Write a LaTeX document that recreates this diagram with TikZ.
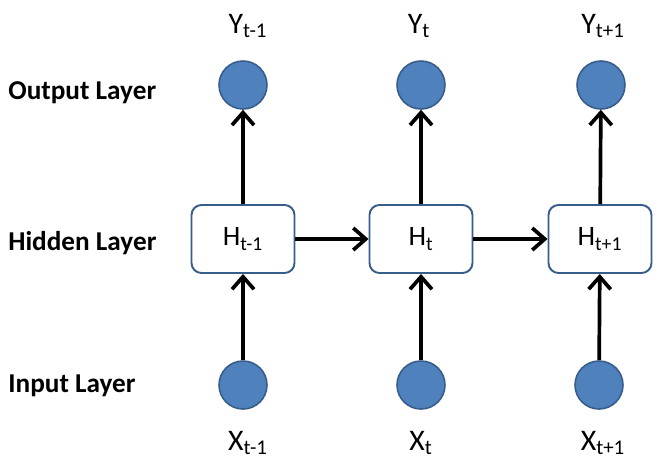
\documentclass[tikz,border=0pt]{standalone}
\usepackage{fontspec}
\setmainfont{Carlito}
\usepackage{xcolor}
\usetikzlibrary{arrows.meta}
\definecolor{unitfill}{HTML}{4F81BD}
\definecolor{unitline}{HTML}{385D8A}
\tikzset{unit/.style={circle,fill=unitfill,draw=unitline,line width=0.9pt,minimum size=0.96cm,inner sep=0pt},
  hbox/.style={rectangle,rounded corners=0.2cm,draw=unitline,line width=1.1pt,fill=white,minimum width=2.06cm,minimum height=1.36cm,font=\fontsize{16}{18}\selectfont},
  lbl/.style={font=\fontsize{17}{19}\selectfont,anchor=base},
  layer/.style={font=\fontsize{15.5}{17}\selectfont\bfseries,anchor=base west,inner sep=0pt},
  arr/.style={line width=2.1pt,-{Straight Barb[length=2.5mm,width=4.4mm,line width=2.1pt]}}}

\begin{document}
\begin{tikzpicture}
\useasboundingbox (0,0) rectangle (13.3,-9.34);

% layer names
\node[layer] (lo) at (0.16,-1.98) {Output Layer};
\node[layer] (lh) at (0.16,-5.00) {Hidden Layer};
\node[layer] (li) at (0.16,-7.84) {Input Layer};

% output units
\node[unit] (y1) at (4.86,-1.70) {};
\node[unit] (y2) at (8.42,-1.70) {};
\node[unit] (y3) at (12.02,-1.70) {};

% hidden units
\node[hbox] (h1) at (4.86,-4.78) {H\textsubscript{t-1}};
\node[hbox] (h2) at (8.42,-4.78) {H\textsubscript{t}};
\node[hbox] (h3) at (12.0,-4.78) {H\textsubscript{t+1}};

% input units
\node[unit] (x1) at (4.86,-7.70) {};
\node[unit] (x2) at (8.42,-7.70) {};
\node[unit] (x3) at (11.98,-7.70) {};

% labels
\node[lbl] (ty1) at (4.96,-0.66) {Y\textsubscript{t-1}};
\node[lbl] (ty2) at (8.38,-0.66) {Y\textsubscript{t}};
\node[lbl] (ty3) at (12.06,-0.66) {Y\textsubscript{t+1}};
\node[lbl] (tx1) at (4.96,-9.0) {X\textsubscript{t-1}};
\node[lbl] (tx2) at (8.42,-9.0) {X\textsubscript{t}};
\node[lbl] (tx3) at (12.06,-9.0) {X\textsubscript{t+1}};

% connections
\draw[arr] (x1) -- (h1);
\draw[arr] (x2) -- (h2);
\draw[arr] (x3) -- (h3);

\draw[arr] (h1) -- (y1);
\draw[arr] (h2) -- (y2);
\draw[arr] (h3) -- (y3);

\draw[arr] (h1) -- (h2);
\draw[arr] (h2) -- (h3);

\end{tikzpicture}
\end{document}
